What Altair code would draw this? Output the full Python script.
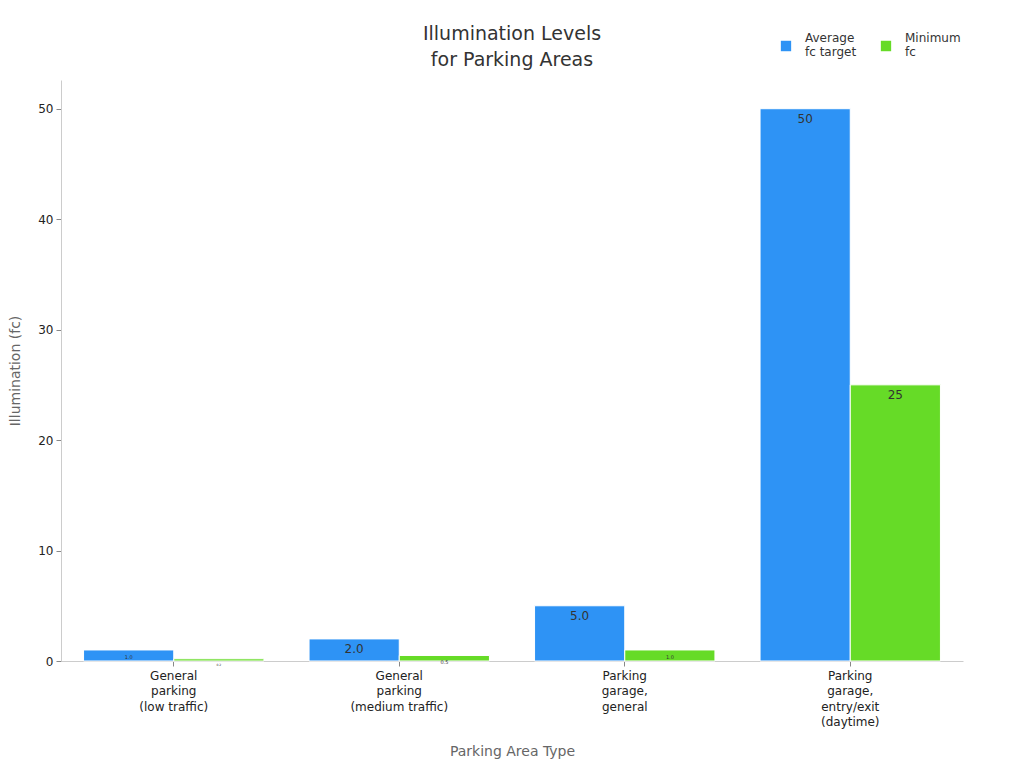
import altair as alt
import pandas as pd

areas = [
    "General\nparking\n(low traffic)",
    "General\nparking\n(medium traffic)",
    "Parking\ngarage,\ngeneral",
    "Parking\ngarage,\nentry/exit\n(daytime)",
]
series = ["Average\nfc target", "Minimum\nfc"]
avg_fc = [1.0, 2.0, 5.0, 50]
min_fc = [0.2, 0.5, 1.0, 25]

rows = []
for a, v in zip(areas, avg_fc):
    rows.append({"area": a, "series": series[0], "value": v})
for a, v in zip(areas, min_fc):
    rows.append({"area": a, "series": series[1], "value": v})
df = pd.DataFrame(rows)

base = alt.Chart(df).encode(
    x=alt.X("area:N", sort=areas, title="Parking Area Type",
            scale=alt.Scale(paddingInner=0.2, paddingOuter=0.1),
            axis=alt.Axis(labelAngle=0, labelExpr="split(datum.label, '\\n')",
                          labelColor="#222", labelFontSize=12, labelLineHeight=15.5,
                          titleColor="#666", titleFontSize=14, titleFontWeight="normal",
                          titlePadding=17, domainColor="#ccc", tickColor="#888",
                          labelPadding=4)),
    xOffset=alt.XOffset("series:N", sort=series),
    y=alt.Y("value:Q", title="Illumination (fc)",
            scale=alt.Scale(domain=[0, 52.6], nice=False),
            axis=alt.Axis(values=[0, 10, 20, 30, 40, 50], grid=False,
                          labelColor="#222", labelFontSize=12, labelPadding=3,
                          titleColor="#666", titleFontSize=14, titleFontWeight="normal",
                          titlePadding=15, domainColor="#ccc", tickColor="#888")),
)

bars = base.mark_bar(stroke="white", strokeWidth=1).encode(
    color=alt.Color("series:N", sort=series,
                    scale=alt.Scale(domain=series, range=["#2E93F5", "#66DB27"]),
                    legend=alt.Legend(title=None, orient="none", direction="horizontal",
                                      legendX=718, legendY=-41, symbolType="square",
                                      symbolSize=140, labelFontSize=12, labelColor="#333",
                                      labelExpr="split(datum.label, '\\n')",
                                      labelBaseline="line-bottom", labelOffset=12,
                                      columnPadding=20)),
)

labels = base.mark_text(baseline="top", dy=5, color="#333").encode(
    text="lbl:N",
    size=alt.Size("fs:Q", scale=None, legend=None),
).transform_calculate(
    lbl="datum.value >= 10 ? format(datum.value, 'd') : format(datum.value, '.1f')",
    fs="datum.value >= 2 ? 12 : (datum.value >= 0.5 ? 5 : 3)",
)

chart = (bars + labels).properties(
    width=902,
    height=581,
    title=alt.Title(["Illumination Levels", "for Parking Areas"], fontSize=19,
                    fontWeight="normal", color="#333", anchor="middle", offset=10,
                    lineHeight=26, dy=41),
    background="white",
    padding={"left": 0, "top": 17, "right": 5, "bottom": 5},
).configure(font="DejaVu Sans").configure_view(stroke=None)

chart.save("out.html", embed_options={"renderer": "svg", "actions": False})
